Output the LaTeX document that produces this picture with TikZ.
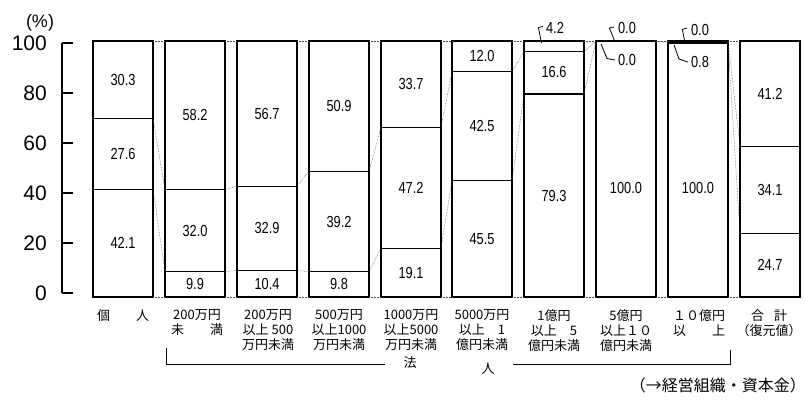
\documentclass[tikz,border=0pt]{standalone}
\usepackage{fontspec}
\usepackage{tikz}
\setmainfont{Liberation Sans}
\newfontfamily\jpfont{Noto Sans CJK JP}
\newfontfamily\numfont[FakeStretch=0.8]{Liberation Sans}

\begin{document}
\begin{tikzpicture}[x = 1pt, y = -1pt,
  bar/.style = {line width = 1.1pt},
  link/.style = {densely dotted, line width = 0.5pt, black!70},
  hook/.style = {line width = 0.8pt},
  val/.style = {font = {\numfont\fontsize{16}{16}\selectfont}, inner sep = 0pt},
  cat/.style = {font = {\jpfont\fontsize{13}{15}\selectfont}, align = center, anchor = north, inner sep = 0pt}]
  \fill [white] (0, 0) rectangle (805, 404);
  \useasboundingbox (0, 0) rectangle (805, 404);
  % axis
  \draw [line width = 1.1pt] (62, 43) -- (62, 293);
  \foreach \v in {0, 20, ..., 100} {
    \draw [line width = 1.1pt] (62, {293 - 2.5*\v}) -- (73, {293 - 2.5*\v});
    \node [anchor = east, inner sep = 0pt, font = \fontsize{21}{21}\selectfont] (tick\v) at (47, {293 - 2.5*\v}) {\v};
  }
  \node [inner sep = 0pt, font = \fontsize{18}{18}\selectfont] (unit) at (40, 23) {(\%)};
  % bars
  \foreach \xl/\pp/\qq in {93/42.1/69.7, 165/9.9/41.9, 237/10.4/43.3, 309/9.8/49.0, 381/19.1/66.3,
      452/45.5/88.0, 524/79.3/95.9, 596/100/100, 668/99.2/100, 740/24.7/58.8} {
    \draw [bar] (\xl, 41) rectangle ({\xl + 60}, 297);
    \draw [bar] (\xl, {297 - 2.56*\pp}) -- ({\xl + 60}, {297 - 2.56*\pp});
    \draw [bar] (\xl, {297 - 2.56*\qq}) -- ({\xl + 60}, {297 - 2.56*\qq});
  }
  \fill (668, {297 - 2.56*99.2}) rectangle (728, 41);
  % dotted links
  \foreach \xr/\xn/\pa/\qa/\pb/\qb in {153/165/42.1/69.7/9.9/41.9, 225/237/9.9/41.9/10.4/43.3,
      297/309/10.4/43.3/9.8/49.0, 369/381/9.8/49.0/19.1/66.3, 441/452/19.1/66.3/45.5/88.0,
      512/524/45.5/88.0/79.3/95.9, 584/596/79.3/95.9/100/100, 656/668/100/100/99.2/100,
      728/740/99.2/100/24.7/58.8} {
    \draw [link] (\xr, 297) -- (\xn, 297);
    \draw [link] (\xr, 41) -- (\xn, 41);
    \draw [link] (\xr, {297 - 2.56*\pa}) -- (\xn, {297 - 2.56*\pb});
    \draw [link] (\xr, {297 - 2.56*\qa}) -- (\xn, {297 - 2.56*\qb});
  }
  % values
  \foreach \xl/\pp/\qq/\ta/\tb/\tc [count = \i] in {93/42.1/69.7/42.1/27.6/30.3, 165/9.9/41.9/9.9/32.0/58.2,
      237/10.4/43.3/10.4/32.9/56.7, 309/9.8/49.0/9.8/39.2/50.9, 381/19.1/66.3/19.1/47.2/33.7,
      452/45.5/88.0/45.5/42.5/12.0, 740/24.7/58.8/24.7/34.1/41.2} {
    \node [val] (va\i) at ({\xl + 30}, {297 - 1.28*\pp}) {\ta};
    \node [val] (vb\i) at ({\xl + 30}, {297 - 1.28*(\pp + \qq)}) {\tb};
    \node [val] (vc\i) at ({\xl + 30}, {297 - 1.28*(\qq + 100)}) {\tc};
  }
  \node [val] (low7) at (554, 196) {79.3};
  \node [val] (mid7) at (554, 72) {16.6};
  \node [val] (all8) at (626, 188) {100.0};
  \node [val] (all9) at (698, 188) {100.0};
  % small values above
  \node [val] (top7) at (555, 28) {4.2};
  \draw [hook] (top7.west) ++(-3, -1.5) -- ++(-4.5, 1) -- (541.5, 43);
  \node [val] (top8) at (627, 28) {0.0};
  \draw [hook] (top8.west) ++(-4, -1) -- ++(-4.5, 1) -- (615, 42);
  \node [val] (low8) at (627, 60) {0.0};
  \draw [hook] (601, 44) -- (607, 58.5) -- ([xshift = -3pt]low8.west);
  \node [val] (top9) at (700, 30) {0.0};
  \draw [hook] (top9.west) ++(-4, -2) -- ++(-4.5, 1.5) -- (685, 43);
  \node [val] (low9) at (700, 62) {0.8};
  \draw [hook] (674, 45) -- (679, 59) -- ([xshift = -3pt]low9.west);
  % categories
  \node [cat] (c1) at (123, 309) {個　　人};
  \node [cat] (c2) at (197, 309) {200万円\\未　　満};
  \node [cat] (c3) at (268, 309) {200万円\\以上 500\\万円未満};
  \node [cat] (c4) at (339, 309) {500万円\\以上1000\\万円未満};
  \node [cat] (c5) at (411, 309) {1000万円\\以上5000\\万円未満};
  \node [cat] (c6) at (482, 309) {5000万円\\以上　1\\億円未満};
  \node [cat] (c7) at (554, 309) {1億円\\以上　5\\億円未満};
  \node [cat] (c8) at (626, 309) {5億円\\以上１０\\億円未満};
  \node [cat] (c9) at (699, 309) {１０億円\\以　　上};
  \node [cat] (c10) at (769, 309) {合\hspace{10pt}計\\（復元値）};
  \node [cat, anchor = center] (fa) at (410, 363) {法};
  \node [cat, anchor = center] (jin) at (488, 369) {人};
  \draw [line width = 0.9pt] (166, 348) -- (166, 364) -- (385, 364);
  \draw [line width = 0.9pt] (513, 364) -- (730, 364) -- (730, 350);
  \node [anchor = east, inner sep = 0pt, font = {\jpfont\fontsize{16}{16}\selectfont}] (note) at (806, 385) {（→経営組織・資本金）};
\end{tikzpicture}
\end{document}
